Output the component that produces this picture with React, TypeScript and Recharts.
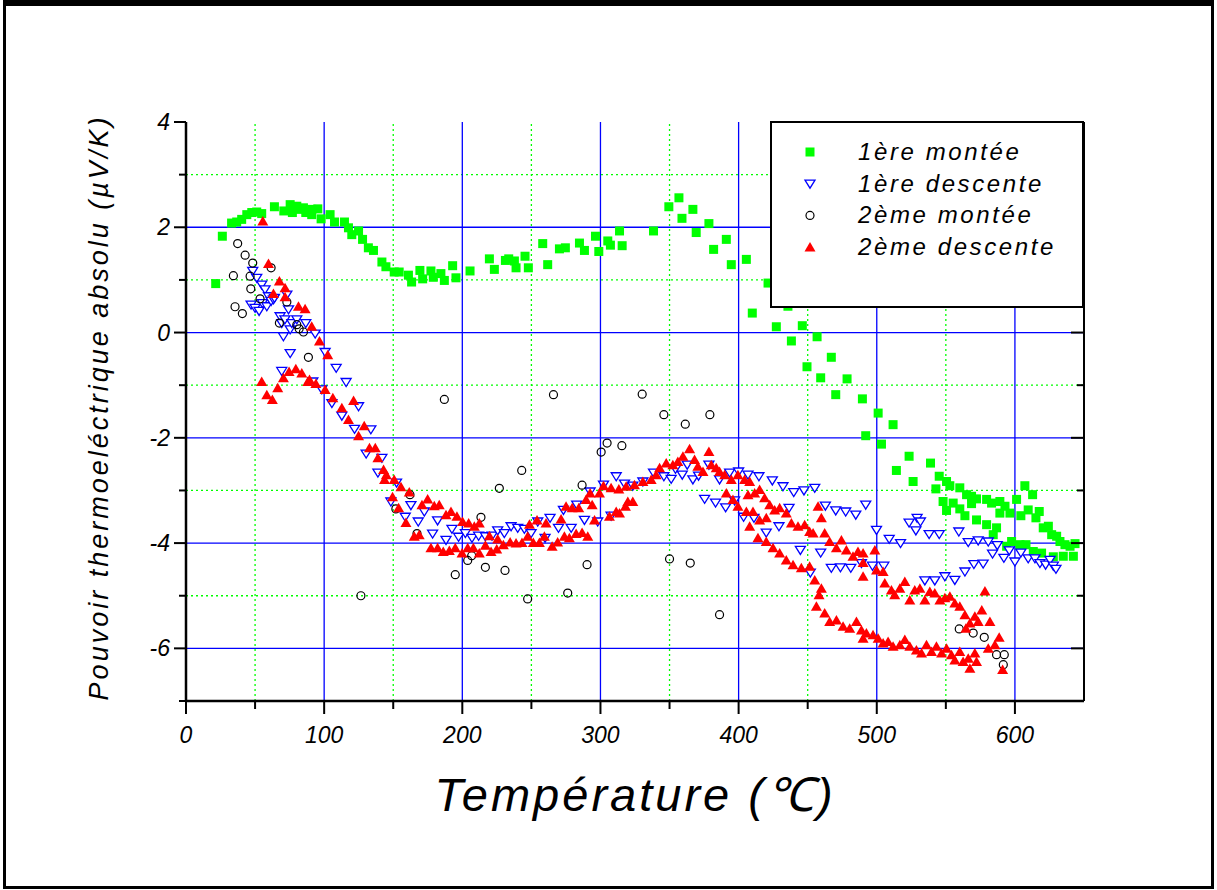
import { ScatterChart, Scatter, XAxis, YAxis, ReferenceLine, Legend } from 'recharts';

// [température °C, pouvoir thermoélectrique µV/K]
const premiereMontee: [number, number][] = [
  [21.5, 0.93], [26.3, 1.83], [33, 2.08], [36.7, 2.1], [40.3, 2.15], [44, 2.24], [47.6, 2.28], [51.2, 2.29],
  [54.8, 2.26], [64, 2.39], [70.8, 2.31], [75.4, 2.43], [77, 2.28], [80.2, 2.4], [82.6, 2.34], [85, 2.37],
  [86.7, 2.28], [91, 2.34], [91, 2.24], [95.4, 2.35], [97.8, 2.16], [104.3, 2.24], [107.5, 2.1], [114.7, 2.1],
  [117.6, 1.99], [120, 1.86], [124.9, 1.93], [127.8, 1.77], [132, 1.61], [135.7, 1.56], [141.8, 1.34],
  [144.7, 1.25], [150.7, 1.15], [154.3, 1.15], [161, 1.09], [163.3, 0.96], [169.3, 1.18], [171.3, 1.02],
  [177.3, 1.17], [179, 1.05], [184.5, 1.12], [187, 0.99], [193, 1.27], [195.4, 1.04], [205.6, 1.17],
  [219.6, 1.4], [223.2, 1.2], [231.2, 1.37], [233.6, 1.4], [237.7, 1.36], [238.9, 1.23], [245.4, 1.45],
  [247.8, 1.23], [258.2, 1.69], [261.8, 1.29], [270.3, 1.59], [274.6, 1.61], [284.8, 1.7], [288.4, 1.56],
  [296.4, 1.83], [298.8, 1.54], [305.3, 1.74], [307.2, 1.66], [313.8, 1.93], [315.7, 1.65], [338.4, 1.93],
  [349.5, 2.39], [356.8, 2.56], [359, 2.17], [366.9, 2.34], [369.3, 1.9], [378.5, 2.07], [381.9, 1.58],
  [391.1, 1.77], [394.7, 1.29], [405.6, 1.39], [409.9, 0.37], [421.3, 0.94], [427.3, 0.11], [435.7, 0.5],
  [438.2, -0.16], [446.1, 0.13], [449.5, -0.65], [456.8, -0.08], [459.4, -0.86], [467.1, -0.47],
  [470.3, -1.18], [478.5, -0.88], [489.6, -1.26], [492, -1.96], [501, -1.53], [503.4, -2.12], [511.8, -1.75],
  [514.2, -2.62], [523.4, -2.35], [526.3, -2.83], [538.9, -2.48], [542.8, -2.97], [545.2, -2.73], [548, -3.21],
  [550.5, -2.83], [550.5, -3.38], [552.9, -2.91], [555.3, -3.24], [560.1, -2.95], [560.1, -3.35],
  [563.8, -3.48], [565, -3.08], [568.6, -3.11], [568.6, -3.25], [572.2, -3.16], [572.2, -3.56],
  [579.5, -3.17], [579.5, -3.65], [583.1, -3.24], [584.3, -3.84], [586.7, -3.71], [589.1, -3.21],
  [589.1, -3.43], [592.8, -3.3], [594, -4.06], [596.4, -3.43], [597.6, -3.97], [601.2, -3.17], [603.6, -4.03],
  [604.3, -3.48], [607.2, -2.91], [608, -4.03], [609.6, -3.37], [612.8, -3.08], [613.3, -4.16], [615.2, -3.52],
  [617.6, -3.4], [619.3, -4.19], [620.5, -3.71], [624.2, -3.68], [626.6, -3.84], [627.8, -4.26], [630.2, -3.87],
  [632.6, -3.97], [635, -4.25], [636.2, -4.03], [639.9, -4.06], [642.3, -4.25], [643.5, -4.01],
];

const premiereDescente: [number, number][] = [
  [47.1, 0.53], [48.3, 1.17], [50, 0.47], [51.2, 1.04], [52.9, 0.41], [54.8, 0.91], [55.3, 0.56], [57.2, 0.82],
  [58.5, 0.5], [59.7, 0.69], [61.6, 0.6], [63.3, 0.63], [64, 0.66], [68.1, 0.31], [69.3, 0.18], [69.3, -0.73],
  [70.5, -0.07], [71.6, 0.25], [73, 0.72], [74.2, 0.44], [75.4, 0.06], [75.4, -0.39], [76.6, 0.18], [80.2, 0.25],
  [86.7, 0.18], [91.8, -0.93], [93.5, -0.02], [98.3, -1.08], [100.7, -0.37], [105.6, -1.34], [108.7, -0.67],
  [112.8, -1.58], [115.9, -0.94], [122, -1.83], [124.9, -1.4], [130.4, -2.3], [133.8, -1.84], [138.9, -2.66],
  [141.8, -2.38], [148.3, -3.21], [152.4, -2.85], [158.7, -3.5], [162.8, -3.28], [168.1, -3.59], [172.5, -3.4],
  [178.5, -3.82], [182.1, -3.57], [188.2, -3.94], [192.5, -3.73], [197.3, -3.88], [202.2, -3.81], [207, -3.9],
  [211.8, -3.86], [216.7, -3.87], [221.5, -3.86], [225.6, -3.76], [230.4, -3.81], [235.3, -3.68], [240.1, -3.71],
  [244.9, -3.73], [249.8, -3.81], [254.6, -3.59], [259.9, -3.9], [263.5, -3.52], [269.6, -3.71], [273.2, -3.37],
  [278.8, -3.71], [282.8, -3.27], [288.4, -3.56], [292.5, -3.02], [298, -3.59], [302.2, -2.89], [307.7, -3.48],
  [311.4, -2.73], [317.4, -2.87], [323.4, -2.91], [330.7, -2.83], [338.4, -2.66], [345.9, -2.73], [351.2, -2.78],
  [354.3, -2.59], [359.2, -2.7], [362.8, -2.51], [366.9, -2.79], [371, -2.72], [375.4, -3.16], [378.5, -2.51],
  [383.3, -3.23], [386.2, -2.79], [390.6, -3.32], [393.5, -2.66], [397.1, -3.19], [400, -2.64], [403.6, -3.5],
  [406.8, -2.7], [411.1, -3.52], [414.7, -2.73], [420, -3.8], [424.4, -2.81], [429.2, -3.68], [432.1, -2.92],
  [436.5, -3.33], [439.9, -3.03], [444.7, -4.13], [447.3, -3.0], [451.9, -4.56], [455.1, -2.95], [459.4, -4.18],
  [462.8, -3.29], [467.1, -4.47], [470.3, -3.38], [473.7, -4.46], [477.5, -3.4], [481.2, -4.47], [484.8, -3.46],
  [488.9, -4.38], [492, -3.27], [496.9, -4.43], [499.8, -3.75], [505.1, -4.43], [509, -3.92], [517.2, -4.0],
  [523.4, -3.61], [528.3, -3.76], [529.2, -3.52], [531.6, -3.59], [534.8, -4.71], [537.9, -3.83], [542, -4.71],
  [545.2, -3.83], [549.3, -4.63], [556.5, -4.7], [559.4, -3.78], [563.8, -4.54], [566.2, -3.98], [570.3, -4.4],
  [573.4, -3.95], [577, -4.39], [580.7, -3.97], [583.8, -4.2], [587.2, -4.04], [592, -4.28], [595.9, -4.14],
  [600, -4.35], [604.3, -4.18], [609.6, -4.29], [614.5, -4.29], [618.1, -4.38], [622.2, -4.41], [625.4, -4.32],
  [627.8, -4.43], [629.7, -4.49],
];

const deuxiemeMontee: [number, number][] = [
  [34.3, 1.08], [35.5, 0.49], [37.4, 1.69], [40.8, 0.36], [42.8, 1.47], [46.4, 1.07], [46.9, 0.83], [48.3, 1.32],
  [53.6, 0.64], [61.6, 1.23], [67.6, 0.18], [73, 0.58], [80.2, 0.15], [81.9, 0.07], [85, 0.01], [88.6, -0.47],
  [126.6, -5.0], [151.9, -3.35], [162.1, -3.08], [167.2, -3.82], [187, -1.27], [194.9, -4.6], [203.9, -4.33],
  [206.8, -4.24], [213.5, -3.51], [216.7, -4.46], [226.8, -2.96], [230.9, -4.52], [243, -2.62], [247.3, -5.06],
  [266, -1.18], [276.3, -4.95], [286.7, -2.9], [290.3, -4.41], [300.5, -2.27], [304.8, -2.1], [315.5, -2.15],
  [330.2, -1.17], [345.9, -1.56], [350, -4.3], [361.4, -1.74], [365, -4.38], [379.2, -1.56], [386.2, -5.36],
  [559.7, -5.63], [569.8, -5.71], [577.8, -5.79], [586.7, -6.12], [592.3, -6.12], [591.6, -6.31],
];

const deuxiemeDescente: [number, number][] = [
  [55.6, 2.12], [59.7, 1.31], [63.3, 0.74], [67.6, 0.98], [71.7, 0.85], [71.7, 0.68], [81.4, 0.5], [86.2, 0.45],
  [91, 0.12], [96.6, -0.16], [102.6, -0.42], [54.8, -0.93], [58.5, -1.18], [62.5, -1.27], [66.4, -1.05],
  [70.5, -0.86], [74.6, -0.74], [79.5, -0.69], [83.8, -0.77], [88.2, -0.93], [89.4, -0.89], [94, -0.97],
  [100.7, -1.08], [106.3, -1.24], [112.8, -1.43], [117.6, -1.65], [121.3, -1.29], [124.9, -1.96], [129, -1.77],
  [132.8, -2.19], [137, -2.19], [138.9, -2.38], [143, -2.6], [143.7, -2.79], [145, -2.7], [149.5, -3.12],
  [150.7, -2.79], [153.9, -3.33], [155.6, -2.93], [159.2, -3.61], [161.6, -3.03], [165.2, -3.87], [168.8, -3.84],
  [170.8, -3.27], [174.9, -3.16], [177.3, -4.09], [179.7, -3.29], [182.1, -4.09], [183.3, -3.27], [186.2, -4.16],
  [188.2, -3.46], [190.6, -4.14], [191.8, -3.4], [194.9, -4.09], [196.1, -3.49], [199.8, -4.19], [200.2, -3.59],
  [203.9, -4.09], [204.6, -3.62], [208, -4.09], [208.7, -3.68], [212.3, -4.19], [212.3, -3.62], [216.7, -4.04],
  [219.6, -3.86], [220.8, -4.16], [224.9, -4.11], [225.6, -3.92], [229.7, -4.03], [234.6, -3.98], [238.9, -4.0],
  [243.2, -3.99], [247.3, -3.87], [248.6, -3.64], [251.4, -3.99], [254.1, -3.56], [255.8, -3.99], [259.4, -3.87],
  [260.6, -3.62], [265, -4.06], [269, -3.98], [271.5, -3.54], [273.9, -3.87], [275.1, -3.3], [277.5, -3.9],
  [279.5, -3.33], [282.4, -3.82], [284.3, -3.33], [286.7, -3.8], [289.6, -3.17], [290.8, -3.87], [292.5, -3.05],
  [294, -3.27], [295.7, -3.56], [299.3, -3.05], [302.2, -2.91], [306.5, -3.49], [307.7, -2.95], [311.4, -3.4],
  [313.3, -2.97], [313.8, -3.43], [318.1, -3.3], [318.6, -2.92], [319.8, -3.21], [323.4, -3.21], [324.6, -2.89],
  [330.7, -2.83], [336.7, -2.79], [340.3, -2.7], [342.8, -2.57], [347.6, -2.48], [352.4, -2.51], [356, -2.45],
  [359.7, -2.35], [364.5, -2.21], [368.1, -2.41], [370.5, -2.54], [374.2, -2.64], [378.5, -2.26], [380.2, -2.51],
  [383.8, -2.57], [386.2, -2.64], [389.9, -2.7], [391.1, -3.05], [394.7, -2.79], [395.9, -3.17], [399.5, -2.7],
  [399.5, -3.3], [404.3, -2.79], [405.6, -3.4], [406.8, -3.08], [408, -2.83], [408, -3.68], [410.4, -3.4],
  [411.6, -3.05], [414, -3.9], [415.2, -2.98], [415.2, -3.56], [418.8, -3.14], [420, -3.52], [420, -3.97],
  [422.5, -3.27], [424.9, -4.09], [426.1, -3.37], [429.7, -3.33], [429.7, -4.19], [434.5, -3.43], [434.5, -4.32],
  [438.2, -3.62], [439.4, -4.41], [443, -3.68], [445.4, -4.47], [447.8, -3.65], [451.4, -3.78], [451.4, -4.44],
  [453.9, -3.81], [455.1, -4.7], [456.3, -5.2], [457.5, -3.3], [458.2, -4.98], [459.9, -3.52], [459.9, -4.86],
  [462.3, -3.81], [462.3, -5.33], [465.9, -3.97], [465.9, -5.49], [470.8, -4.09], [470.8, -5.46], [474.4, -3.94],
  [475.6, -5.58], [478, -4.13], [480.4, -5.62], [482.8, -4.25], [485.3, -5.49], [486.4, -4.16], [488.9, -5.65],
  [490.1, -4.19], [490.1, -4.37], [490.1, -4.63], [490.1, -5.81], [492.5, -5.71], [497.3, -5.74], [498.6, -4.13],
  [499.8, -4.51], [501, -5.81], [504.6, -4.54], [504.6, -5.9], [505.8, -4.76], [508.2, -5.87], [510.6, -4.89],
  [511.8, -5.96], [513, -4.98], [516.7, -4.86], [516.7, -5.93], [520.3, -4.73], [520.3, -5.83], [523.9, -5.08],
  [523.9, -5.96], [527.5, -4.89], [528.7, -6.03], [531.2, -4.86], [532.4, -6.09], [534.8, -5.08], [536, -5.93],
  [538.4, -4.92], [539.6, -6.06], [542, -4.95], [543.2, -5.96], [545.7, -5.08], [546.9, -6.09], [549.3, -5.04],
  [550.5, -6.0], [552.9, -5.01], [554.1, -6.12], [556.5, -5.14], [556.5, -6.22], [560.1, -5.2], [560.1, -6.06],
  [562.5, -6.25], [563.8, -5.36], [564.5, -5.62], [566.2, -6.19], [567.4, -5.52], [567.4, -6.38], [571, -5.39],
  [571, -6.09], [572.2, -6.25], [573.4, -5.49], [576, -5.27], [578.3, -4.91], [580.7, -6.0], [581.9, -5.49],
  [585.5, -5.93], [588.6, -5.79], [591.1, -6.4],
];

const xTicks = [0, 50, 100, 150, 200, 250, 300, 350, 400, 450, 500, 550, 600];
const yTicks = [-7, -6, -5, -4, -3, -2, -1, 0, 1, 2, 3, 4];
const xMajorGrid = [100, 200, 300, 400, 500, 600];
const xMinorGrid = [50, 150, 250, 350, 450, 550];
const yMajorGrid = [2, 0, -2, -4, -6];
const yMinorGrid = [3, 1, -1, -3, -5];

const FONT = '"Liberation Sans", Arial, Helvetica, sans-serif';
const GREEN = '#00ff00';
const BLUE = '#0000ff';
const RED = '#ff0000';

const toPts = (arr: [number, number][]) => arr.map(([t, v]) => ({ t, v }));

const Square = ({ cx, cy }: any) => <rect x={cx - 4.5} y={cy - 4.5} width={9} height={9} fill={GREEN} />;
const DownTri = ({ cx, cy }: any) => (
  <polygon
    points={`${cx - 5},${cy - 3.5} ${cx + 5},${cy - 3.5} ${cx},${cy + 4.5}`}
    fill="#fff"
    stroke={BLUE}
    strokeWidth={1.3}
  />
);
const Ring = ({ cx, cy }: any) => <circle cx={cx} cy={cy} r={4} fill="none" stroke="#000" strokeWidth={1.2} />;
const UpTri = ({ cx, cy }: any) => (
  <polygon points={`${cx - 5.5},${cy + 4.5} ${cx + 5.5},${cy + 4.5} ${cx},${cy - 5}`} fill={RED} />
);

const BottomTick = ({ x, y, payload }: any) => {
  const major = payload.value % 100 === 0;
  return (
    <g>
      <line x1={x} y1={y} x2={x} y2={y + (major ? 13 : 8)} stroke="#000" strokeWidth={2} />
      {major && (
        <text x={x} y={y + 42} textAnchor="middle" fontSize={23} fontStyle="italic" fontFamily={FONT} fill="#000">
          {payload.value}
        </text>
      )}
    </g>
  );
};

const LeftTick = ({ x, y, payload }: any) => {
  const major = payload.value % 2 === 0;
  return (
    <g>
      <line x1={x} y1={y} x2={x - (major ? 12 : 7)} y2={y} stroke="#000" strokeWidth={2} />
      {major && (
        <text x={x - 16} y={y + 8} textAnchor="end" fontSize={23} fontStyle="italic" fontFamily={FONT} fill="#000">
          {payload.value}
        </text>
      )}
    </g>
  );
};

const RightTick = ({ x, y, payload }: any) => {
  const major = payload.value % 2 === 0;
  return <line x1={x} y1={y} x2={x - (major ? 13 : 7)} y2={y} stroke="#000" strokeWidth={2} />;
};

const legendItems = [
  { label: '1ère montée', Mark: Square },
  { label: '1ère descente', Mark: DownTri },
  { label: '2ème montée', Mark: Ring },
  { label: '2ème descente', Mark: UpTri },
];

const LegendBox = () => (
  <svg width={314} height={187} style={{ display: 'block' }}>
    <rect x={1} y={1} width={312} height={185} fill="#fff" stroke="#000" strokeWidth={2} />
    {legendItems.map(({ label, Mark }, i) => {
      const cy = 31 + i * 31.7;
      return (
        <g key={label}>
          <Mark cx={40} cy={cy} />
          <text x={88} y={cy + 8} fontSize={24} fontStyle="italic" fontFamily={FONT} letterSpacing={2.6} fill="#000">
            {label}
          </text>
        </g>
      );
    })}
  </svg>
);

export default function App() {
  return (
    <div style={{ position: 'absolute', left: 0, top: 0, width: 1217, height: 890, background: '#fff' }}>
      <ScatterChart width={1217} height={890} margin={{ top: 122, right: 0, bottom: 0, left: 0 }}>
        {xMinorGrid.map((g) => (
          <ReferenceLine key={`xm${g}`} x={g} stroke={GREEN} strokeWidth={1.3} strokeDasharray="2 3" />
        ))}
        {yMinorGrid.map((g) => (
          <ReferenceLine key={`ym${g}`} y={g} stroke={GREEN} strokeWidth={1.3} strokeDasharray="2 3" />
        ))}
        {xMajorGrid.map((g) => (
          <ReferenceLine key={`xM${g}`} x={g} stroke={BLUE} strokeWidth={1.3} />
        ))}
        {yMajorGrid.map((g) => (
          <ReferenceLine key={`yM${g}`} y={g} stroke={BLUE} strokeWidth={1.3} />
        ))}
        <XAxis
          dataKey="t"
          type="number"
          domain={[0, 650]}
          allowDataOverflow
          ticks={xTicks}
          interval={0}
          height={189}
          tickSize={0}
          tickMargin={0}
          tickLine={false}
          tick={BottomTick}
          axisLine={{ stroke: '#000', strokeWidth: 2.5 }}
          label={({ viewBox }: any) => (
            <text
              x={viewBox.x + viewBox.width / 2}
              y={viewBox.y + 110}
              textAnchor="middle"
              fontSize={47}
              fontStyle="italic"
              fontFamily={FONT}
              letterSpacing={3}
              fill="#000"
            >
              Température (℃)
            </text>
          )}
        />
        <YAxis
          dataKey="v"
          type="number"
          domain={[-7, 4]}
          allowDataOverflow
          ticks={yTicks}
          interval={0}
          width={186}
          tickSize={0}
          tickMargin={0}
          tickLine={false}
          tick={LeftTick}
          axisLine={{ stroke: '#000', strokeWidth: 2.5 }}
          label={({ viewBox }: any) => {
            const cy = viewBox.y + viewBox.height / 2 - 4;
            return (
              <text
                x={108}
                y={cy}
                transform={`rotate(-90, 108, ${cy})`}
                textAnchor="middle"
                fontSize={27}
                fontStyle="italic"
                fontFamily={FONT}
                letterSpacing={3}
                fill="#000"
              >
                Pouvoir thermoeléctrique absolu (µV/K)
              </text>
            );
          }}
        />
        <YAxis
          yAxisId="right"
          orientation="right"
          type="number"
          domain={[-7, 4]}
          allowDataOverflow
          ticks={yTicks}
          interval={0}
          width={133}
          tickSize={0}
          tickMargin={0}
          tickLine={false}
          tick={RightTick}
          axisLine={{ stroke: '#000', strokeWidth: 2 }}
        />
        <Scatter name="1ère montée" data={toPts(premiereMontee)} shape={Square} isAnimationActive={false} />
        <Scatter name="1ère descente" data={toPts(premiereDescente)} shape={DownTri} isAnimationActive={false} />
        <Scatter name="2ème montée" data={toPts(deuxiemeMontee)} shape={Ring} isAnimationActive={false} />
        <Scatter name="2ème descente" data={toPts(deuxiemeDescente)} shape={UpTri} isAnimationActive={false} />
        <Legend
          layout="vertical"
          align="center"
          verticalAlign="middle"
          content={<LegendBox />}
          wrapperStyle={{ left: 770, top: 121, width: 314, height: 187 }}
        />
      </ScatterChart>
      <div
        style={{
          position: 'absolute',
          left: 3,
          top: 0,
          width: 1211,
          height: 889,
          boxSizing: 'border-box',
          borderTop: '6px solid #000',
          borderLeft: '3px solid #000',
          borderRight: '3px solid #000',
          borderBottom: '3px solid #000',
          pointerEvents: 'none',
        }}
      />
    </div>
  );
}
